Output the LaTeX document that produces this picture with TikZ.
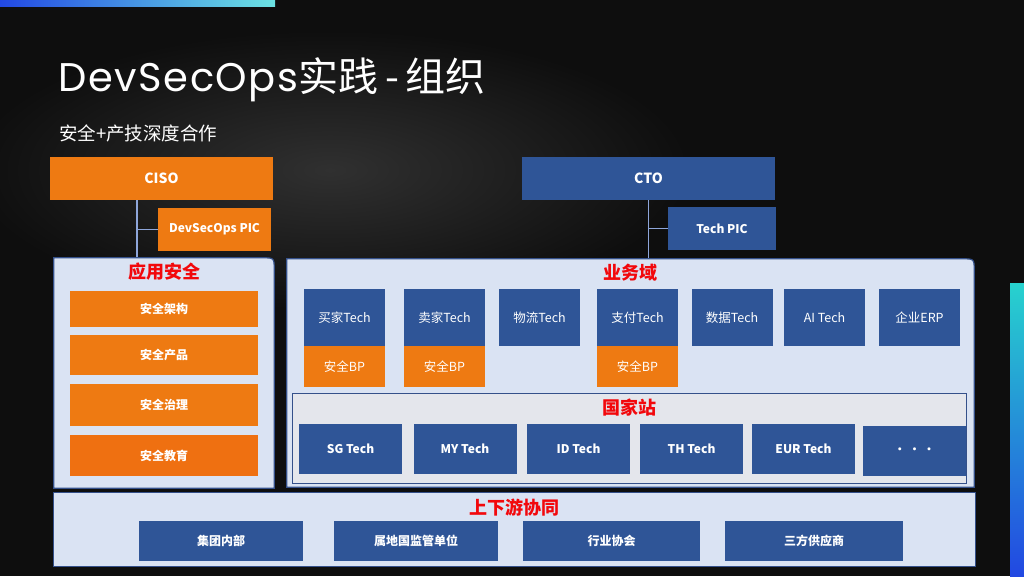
\documentclass[tikz,border=0pt]{standalone}
\usepackage{fontspec}
\setmainfont{Noto Sans CJK SC}
\newfontfamily\poppins[LetterSpace=4]{Poppins}
\usepackage{xcolor}
\usepackage{tikz}
\usetikzlibrary{positioning,calc}

\definecolor{secorange}{HTML}{EE7A12}
\definecolor{techblue}{HTML}{2F5597}
\definecolor{panelfill}{HTML}{DAE3F3}
\definecolor{panelline}{HTML}{34508A}
\definecolor{stationfill}{HTML}{E4E6EC}
\definecolor{titlered}{HTML}{F2080C}
\definecolor{linkblue}{HTML}{8EA6DA}
\definecolor{barblue}{HTML}{2248E2}
\definecolor{barcyan}{HTML}{6BE2E2}
\definecolor{barteal}{HTML}{27D2CE}
\definecolor{bgdark}{HTML}{0E0E0E}
\definecolor{bghaze}{HTML}{303030}

\begin{document}
\begin{tikzpicture}[
  x=1pt, y=-1pt,
  box/.style     = {rectangle, inner sep=0pt, text=white, align=center,
                    font=\bfseries\fontsize{12}{14}\selectfont},
  secbox/.style  = {box, fill=secorange},
  techbox/.style = {box, fill=techblue},
  unitbox/.style = {techbox, font=\fontsize{12.5}{14}\selectfont,
                    minimum width=81pt, minimum height=57pt},
  bpbox/.style   = {secbox, font=\fontsize{12.5}{14}\selectfont,
                    minimum width=81pt, minimum height=41pt},
  sitebox/.style = {techbox, minimum width=103pt, minimum height=50pt},
  partbox/.style = {techbox, minimum height=40pt},
  frame/.style   = {rectangle, inner sep=0pt, draw=none},
  panel/.style   = {fill=panelfill, draw=panelline, line width=1.2pt},
  ptitle/.style  = {text=titlered, inner sep=0pt,
                    font=\bfseries\fontsize{18}{20}\selectfont},
  link/.style    = {draw=linkblue, line width=1.5pt},
]
\useasboundingbox (0,0) rectangle (1024,576);

% ── Backdrop ─────────────────────────────────────────────────
\fill[bgdark] (0,0) rectangle (1024,576);
\shade[inner color=bghaze, outer color=bgdark] (330,170) ellipse (360pt and 140pt);
\shade[left color=barblue, right color=barcyan] (0,0) rectangle (275,6);
\shade[top color=barteal, bottom color=barblue] (1010,283) rectangle (1024,576);

% ── Heading ──────────────────────────────────────────────────
\node[anchor=base west, inner sep=0pt, text=white,
      font=\fontsize{40}{44}\selectfont] (title) at (58,91)
  {{\poppins DevSecOps}实践\,-\,组织};
\node[anchor=west, inner sep=0pt, text=white,
      font=\fontsize{18.5}{20}\selectfont] (subtitle) at (59,133)
  {安全+产技深度合作};

% ── Leaders ──────────────────────────────────────────────────
\node[secbox, minimum width=223pt, minimum height=43pt,
      font=\bfseries\fontsize{14}{16}\selectfont] (ciso) at (161.5,178.5) {CISO};
\node[secbox, minimum width=113pt, minimum height=43pt] (devpic) at (214.5,229.5) {DevSecOps PIC};
\node[techbox, minimum width=253pt, minimum height=43pt,
      font=\bfseries\fontsize{14}{16}\selectfont] (cto) at (648.5,178.5) {CTO};
\node[techbox, minimum width=108pt, minimum height=43pt] (techpic) at (722,228.5) {Tech PIC};

% ── Panels ───────────────────────────────────────────────────
\node[frame, minimum width=220pt, minimum height=230pt] (app) at (164,373) {};
\node[frame, minimum width=687pt, minimum height=228pt] (biz) at (630.5,373) {};
\node[frame, minimum width=921pt, minimum height=73pt] (chain) at (514.5,529.5) {};

\coordinate (cisotap) at ($(ciso.south west)!0.39!(ciso.south east)$);
\draw[link] (cisotap) -- (cisotap |- app.north);
\draw[link] (devpic.west) -- (devpic.west -| cisotap);
\draw[link] (cto.south) -- ($(cto.south |- biz.north)+(0,3)$);
\draw[link] (techpic.west) -- (techpic.west -| cto.south);

\path[panel] (app.south west) -- (app.north west)
  -- ($(app.north east)+(-12,0)$) .. controls (app.north east) .. ($(app.north east)+(0,12)$)
  -- (app.south east) -- cycle;
\path[panel] (biz.south west) -- (biz.north west)
  -- ($(biz.north east)+(-12,0)$) .. controls (biz.north east) .. ($(biz.north east)+(0,12)$)
  -- (biz.south east) -- cycle;
\path[panel] (chain.south west) rectangle (chain.north east);

% ── 应用安全 ─────────────────────────────────────────────────
\node[ptitle, below=5pt of app.north] (apptitle) {应用安全};
\node[secbox, minimum width=188pt, minimum height=36pt] (arch) at (164,309) {安全架构};
\node[secbox, minimum width=188pt, minimum height=40pt] (prod) at (164,355) {安全产品};
\node[secbox, minimum width=188pt, minimum height=42pt] (gov)  at (164,405) {安全治理};
\node[secbox, minimum width=188pt, minimum height=41pt, fill=secorange!92!red] (edu) at (164,455.5) {安全教育};

% ── 业务域 ───────────────────────────────────────────────────
\node[ptitle, below=5pt of biz.north] (biztitle) {业务域};
\node[unitbox] (buyer)  at (344.5,317.5) {买家Tech};
\node[unitbox] (seller) at (444.5,317.5) {卖家Tech};
\node[unitbox] (logi)   at (539.5,317.5) {物流Tech};
\node[unitbox] (pay)    at (637.5,317.5) {支付Tech};
\node[unitbox] (data)   at (732,317.5)   {数据Tech};
\node[unitbox] (ai)     at (824.5,317.5) {AI Tech};
\node[unitbox] (erp)    at (919.5,317.5) {企业ERP};

\node[bpbox, below=0pt of buyer]  (buyerbp)  {安全BP};
\node[bpbox, below=0pt of seller] (sellerbp) {安全BP};
\node[bpbox, below=0pt of pay]    (paybp)    {安全BP};

% ── 国家站 ───────────────────────────────────────────────────
\node[frame, fill=stationfill, draw=panelline, line width=1pt,
      minimum width=674pt, minimum height=90pt] (station) at (629,438) {};
\node[ptitle, below=6pt of station.north] (sttitle) {国家站};
\node[sitebox] (sg)   at (350.5,449) {SG Tech};
\node[sitebox] (my)   at (465,449)   {MY Tech};
\node[sitebox] (id)   at (578.5,449) {ID Tech};
\node[sitebox] (th)   at (691.5,449) {TH Tech};
\node[sitebox] (eur)  at (803.5,449) {EUR Tech};
\node[sitebox] (more) at (914.5,451) {{\fontsize{11}{12}\selectfont •\,\,•\,\,•}};

% ── 上下游协同 ───────────────────────────────────────────────
\node[ptitle, below=6pt of chain.north] (chaintitle) {上下游协同};
\node[partbox, minimum width=164pt] (group) at (221,541)   {集团内部};
\node[partbox, minimum width=164pt] (reg)   at (416,541)   {属地国监管单位};
\node[partbox, minimum width=177pt] (assoc) at (611.5,541) {行业协会};
\node[partbox, minimum width=178pt] (vend)  at (814,541)   {三方供应商};

\end{tikzpicture}
\end{document}
